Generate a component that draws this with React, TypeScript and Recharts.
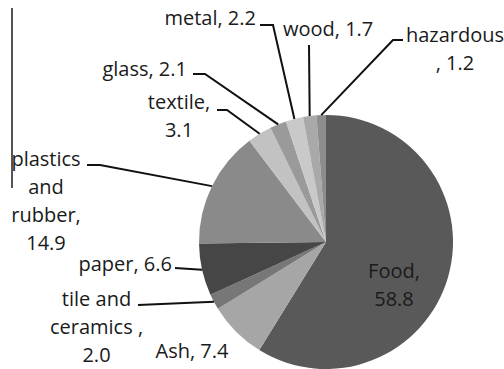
import { Pie, PieChart, Cell } from "recharts";

// Waste composition (%), clockwise from 12 o'clock
const CATEGORIES = [
  "Food",
  "Ash",
  "tile and ceramics ",
  "paper",
  "plastics and rubber",
  "textile",
  "glass",
  "metal",
  "wood",
  "hazardous ",
];
const SHARES = [58.8, 7.4, 2.0, 6.6, 14.9, 3.1, 2.1, 2.2, 1.7, 1.2];
const SLICE_COLORS = [
  "#595959",
  "#a6a6a6",
  "#777777",
  "#464646",
  "#8a8a8a",
  "#c2c2c2",
  "#9a9a9a",
  "#c9c9c9",
  "#a9a9a9",
  "#8d8d8d",
];

const DATA = CATEGORIES.map((name, i) => ({ name, value: SHARES[i] }));

const FONT = "'Open Sans', sans-serif";
const LINE_H = 28;

type Pt = [number, number];
type LabelLayout = {
  x: number;
  y: number; // first baseline
  anchor: "start" | "middle" | "end";
  words: number[]; // words per line
  leader?: Pt[]; // bend points, from the text towards the slice
};

// where each callout sits; the leader's last point is the slice rim
const LAYOUT: Record<string, LabelLayout> = {
  Food: { x: 394, y: 278, anchor: "middle", words: [1, 1] },
  Ash: { x: 192, y: 358, anchor: "middle", words: [2] },
  "tile and ceramics ": {
    x: 96.5,
    y: 306,
    anchor: "middle",
    words: [2, 2, 1],
    leader: [[138, 305]],
  },
  paper: { x: 172, y: 271, anchor: "end", words: [2], leader: [[175, 268]] },
  "plastics and rubber": {
    x: 46,
    y: 166,
    anchor: "middle",
    words: [1, 1, 1, 1],
    leader: [
      [87, 165],
      [100, 165],
    ],
  },
  textile: {
    x: 179,
    y: 109,
    anchor: "middle",
    words: [1, 1],
    leader: [
      [217, 110],
      [227, 110],
    ],
  },
  glass: {
    x: 187,
    y: 76,
    anchor: "end",
    words: [2],
    leader: [
      [193, 74],
      [205, 74],
    ],
  },
  metal: {
    x: 256,
    y: 25,
    anchor: "end",
    words: [2],
    leader: [
      [260, 25],
      [273, 25],
    ],
  },
  wood: { x: 283, y: 36, anchor: "start", words: [2], leader: [[309, 45]] },
  "hazardous ": {
    x: 455,
    y: 42,
    anchor: "middle",
    words: [1, 2],
    leader: [
      [403, 40],
      [393, 40],
    ],
  },
};

const RAD = Math.PI / 180;

function Callout(props: any) {
  const { cx, cy, midAngle, outerRadius, name, value } = props;
  const layout = LAYOUT[name];
  if (!layout) return null;

  const words = `${name}, ${Number(value).toFixed(1)}`.split(/\s+/).filter(Boolean);
  const lines: string[] = [];
  let k = 0;
  for (const n of layout.words) {
    lines.push(words.slice(k, k + n).join(" "));
    k += n;
  }

  let path = "";
  if (layout.leader) {
    const rx = cx + outerRadius * Math.cos(-midAngle * RAD);
    const ry = cy + outerRadius * Math.sin(-midAngle * RAD);
    const pts = [...layout.leader, [rx, ry]];
    path = pts.map((p, i) => `${i ? "L" : "M"}${p[0]},${p[1]}`).join(" ");
  }

  return (
    <g>
      {path && <path d={path} stroke="#111" strokeWidth={2} fill="none" />}
      <text
        x={layout.x}
        y={layout.y}
        textAnchor={layout.anchor}
        fill="#1a1a1a"
        fontFamily={FONT}
        fontSize={20}
      >
        {lines.map((ln, i) => (
          <tspan key={i} x={layout.x} y={layout.y + i * LINE_H}>
            {ln}
          </tspan>
        ))}
      </text>
    </g>
  );
}

export default function App() {
  return (
    <div style={{ position: "absolute", left: 0, top: 0, width: 504, height: 369, background: "#fff" }}>
      <div
        style={{
          position: "absolute",
          left: 11,
          top: 8,
          width: 1.5,
          height: 180,
          background: "#555",
        }}
      />
      <PieChart width={504} height={369} margin={{ top: 0, right: 0, bottom: 0, left: 0 }}>
        <Pie
          data={DATA}
          dataKey="value"
          nameKey="name"
          cx={326}
          cy={242}
          outerRadius={127}
          startAngle={90}
          endAngle={-270}
          stroke="none"
          labelLine={false}
          label={Callout}
          isAnimationActive={false}
        >
          {DATA.map((d, i) => (
            <Cell key={d.name} fill={SLICE_COLORS[i]} />
          ))}
        </Pie>
      </PieChart>
    </div>
  );
}
